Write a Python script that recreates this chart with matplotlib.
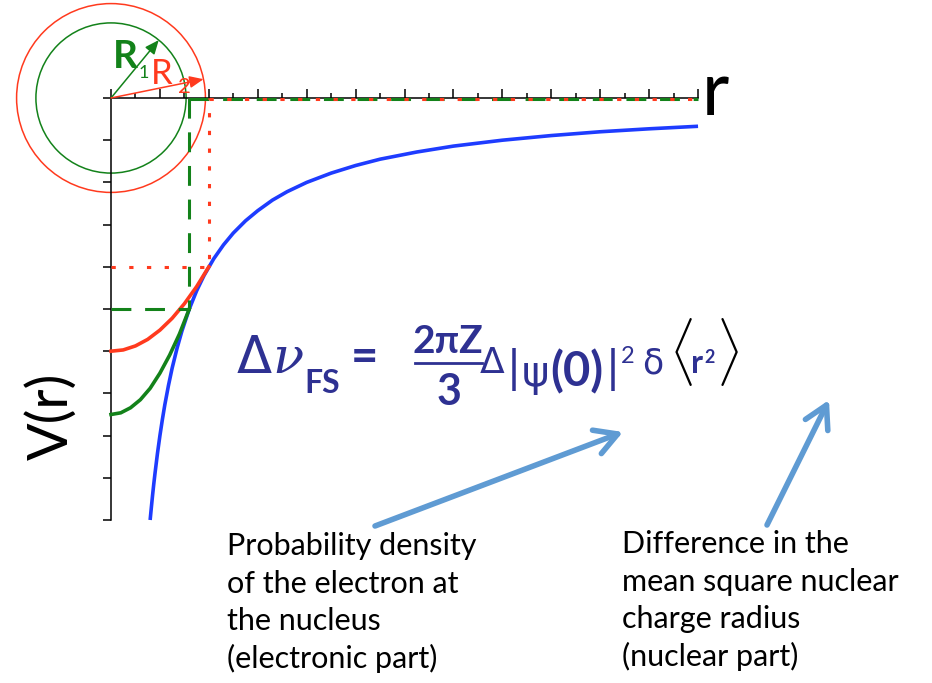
"""Finite-size (field) shift sketch: V(r) of a point vs. extended nucleus."""

import matplotlib
import matplotlib.transforms as mtransforms
import numpy as np
from matplotlib.lines import Line2D
from matplotlib.patches import Ellipse

matplotlib.use("Agg")
import matplotlib.pyplot as plt  # noqa: E402

W, H, DPI = 932, 683, 100

# ---- data (r in tick units, V in tick units) -------------------------------
R_MAX = 24
V_MIN = -10
X_MAJOR = list(range(0, R_MAX + 1, 2))
X_MINOR = list(range(1, R_MAX, 2))
Y_TICKS = list(range(V_MIN, 1))

# point nucleus, V ~ -1/r
blue_r = [1.6, 1.65, 1.7, 1.75, 1.8, 1.9, 2.0, 2.1, 2.2, 2.35, 2.5, 2.7, 2.9, 3.2,
          3.5, 3.8, 4.2, 4.6, 5.0, 5.5, 6.0, 6.6, 7.2, 8.0, 9.0, 10.0, 11.0, 12.5,
          14.0, 16.0, 18.0, 20.0, 22.0, 24.0]
blue_v = [-10.0, -9.70, -9.41, -9.14, -8.89, -8.42, -8.0, -7.62, -7.27, -6.81, -6.4,
          -5.93, -5.52, -5.0, -4.57, -4.21, -3.81, -3.48, -3.2, -2.91, -2.67, -2.42,
          -2.22, -2.0, -1.78, -1.6, -1.45, -1.28, -1.14, -1.0, -0.89, -0.8, -0.73, -0.67]

# extended nucleus, radius R2 (red)
R2 = 4.0
red_r = [0.0, 0.5, 1.0, 1.5, 2.0, 2.5, 3.0, 3.5, 4.0]
red_v = [-6.0, -5.97, -5.875, -5.72, -5.5, -5.22, -4.875, -4.47, -4.0]

# extended nucleus, radius R1 (green)
R1 = 3.2
green_r = [0.0, 0.4, 0.8, 1.2, 1.6, 2.0, 2.4, 2.8, 3.2]
green_v = [-7.5, -7.46, -7.34, -7.15, -6.88, -6.52, -6.09, -5.59, -5.0]

circle_radii = [3.07, 3.86]      # green, red
arrow_angles = [50.5, 11.5]      # degrees, green, red

left_note = ["Probability density", "of the electron at", "the nucleus", "(electronic part)"]
right_note = ["Difference in the", "mean square nuclear", "charge radius", "(nuclear part)"]

# ---- layout -----------------------------------------------------------------
ORIGIN_PX = (111, 98)
PX_PER_R = 24.46
PX_PER_V = 42.2
ASPECT = PX_PER_R / PX_PER_V

RED = "#FF3A1E"
GREEN = "#13821A"
BLUE = "#1E3CFF"
NAVY = "#2E3192"
ARROW = "#5F9BD3"
LATIN = ["Lato", "DejaVu Sans"]
GREEK = ["DejaVu Sans"]

fig = plt.figure(figsize=(W / DPI, H / DPI), dpi=DPI)
ax = fig.add_axes([0, 0, 1, 1])
ax.set_xlim(-ORIGIN_PX[0] / PX_PER_R, (W - ORIGIN_PX[0]) / PX_PER_R)
ax.set_ylim(-(H - ORIGIN_PX[1]) / PX_PER_V, ORIGIN_PX[1] / PX_PER_V)
ax.patch.set_visible(False)
for side in ("top", "right"):
    ax.spines[side].set_visible(False)
for side in ("bottom", "left"):
    ax.spines[side].set_position(("data", 0))
    ax.spines[side].set_linewidth(1.1)
ax.spines["bottom"].set_bounds(0, R_MAX)
ax.spines["left"].set_bounds(V_MIN, 0)
ax.set_xticks(X_MAJOR)
ax.set_xticks(X_MINOR, minor=True)
ax.set_yticks(Y_TICKS)
ax.tick_params(axis="x", which="major", direction="in", length=6.5, width=1.1, labelbottom=False)
ax.tick_params(axis="x", which="minor", direction="in", length=3.6, width=1.1)
ax.tick_params(axis="y", direction="out", length=5.8, width=1.1, labelleft=False)

# curves
ax.plot(blue_r, blue_v, color=BLUE, lw=2.6, solid_capstyle="butt", solid_joinstyle="round", zorder=3)
ax.plot(green_r, green_v, color=GREEN, lw=2.6, solid_joinstyle="round", zorder=4)
ax.plot(red_r, red_v, color=RED, lw=2.6, solid_joinstyle="round", zorder=4)

# guide lines at the nuclear radii
v_r1 = green_v[-1]
v_r2 = red_v[-1]
ax.plot([0, R1, R1], [v_r1, v_r1, 0], color=GREEN, lw=2.2, dashes=(6.5, 4.5), zorder=5)
ax.plot([R1, R_MAX], [-0.03, -0.03], color=GREEN, lw=2.2, dashes=(6.5, 4.5), zorder=5)
ax.plot([0, R2, R2], [v_r2, v_r2, 0], color=RED, lw=2.2, dashes=(1.4, 4.4), zorder=6)
ax.plot([R2, R_MAX], [-0.03, -0.03], color=RED, lw=2.2, dashes=(1.4, 4.4), zorder=6)

# nucleus circles with radius arrows
for rc, ang, col in zip(circle_radii, arrow_angles, [GREEN, RED]):
    ax.add_patch(Ellipse((0, 0), 2 * rc, 2 * rc * ASPECT, fill=False, ec=col, lw=1.1,
                         clip_on=False, zorder=2))
    tip = (rc * np.cos(np.radians(ang)), rc * np.sin(np.radians(ang)) * ASPECT)
    ax.annotate("", xy=tip, xytext=(0, 0),
                arrowprops=dict(arrowstyle="-|>,head_length=0.7,head_width=0.3", color=col,
                                lw=1.1, shrinkA=0, shrinkB=0, mutation_scale=12))

# ---- text (pixel coordinates from top-left) --------------------------------
pix = mtransforms.Affine2D().scale(1 / W, -1 / H).translate(0, 1) + fig.transFigure


def put(s, x, y, size, color="black", family=LATIN, weight="normal", style="normal", **kw):
    fig.text(x, y, s, transform=pix, fontsize=size, color=color, family=family,
             weight=weight, style=style, va=kw.pop("va", "baseline"), ha=kw.pop("ha", "left"),
             zorder=10, **kw)


put("R", 113, 68, 28, GREEN, weight="bold")
put("1", 139, 78, 13, GREEN)
put("R", 151, 84, 25, RED)
put("2", 178, 93, 16, RED)

put("r", 702, 115, 54)
put("V(r)", 52, 416, 40, rotation=90, ha="center", va="center")

# formula
put("Δ", 237, 373, 37, NAVY, GREEK)
put("ν", 272, 373, 37, NAVY, ["DejaVu Serif"], style="italic")
put("FS", 304, 393, 23, NAVY, weight="bold")
put("=", 351, 372, 34, NAVY, weight="bold")
put("2πZ", 412, 353, 28, NAVY, weight="bold")
fig.add_artist(Line2D([415, 482], [363, 363], transform=pix, color=NAVY, lw=2.0))
put("3", 449, 405, 31, NAVY, weight="bold", ha="center")
put("Δ", 480, 373, 26, NAVY, GREEK)
put("|", 507, 381, 30, NAVY, GREEK)
put("ψ", 522, 386, 30, NAVY, GREEK)
put("(0)", 550, 386, 34, NAVY, weight="bold")
put("|", 606, 381, 30, NAVY, GREEK)
put("2", 621, 363, 17, NAVY)
put("δ", 642, 373, 25, NAVY, GREEK)
put(r"$\langle$", 669, 373, 40, math_fontfamily="cm")
put("r", 691, 373, 23, NAVY, weight="bold")
put("2", 704, 363, 13, NAVY, weight="bold")
put(r"$\rangle$", 716, 373, 40, math_fontfamily="cm")

# annotation arrows
for tail, head in [((375, 526), (623, 432)), ((767, 525), (829, 400))]:
    ax.annotate("", xy=head, xytext=tail, xycoords=pix, textcoords=pix,
                arrowprops=dict(arrowstyle="->,head_length=0.8,head_width=0.45", color=ARROW,
                                lw=4, shrinkA=0, shrinkB=0, mutation_scale=20,
                                capstyle="round", joinstyle="round"))

for i, line in enumerate(left_note):
    put(line, 227, 555 + 37.7 * i, 22)
for i, line in enumerate(right_note):
    put(line, 622, 553 + 37.7 * i, 22)

fig.savefig("out.png", dpi=DPI)
plt.close(fig)
